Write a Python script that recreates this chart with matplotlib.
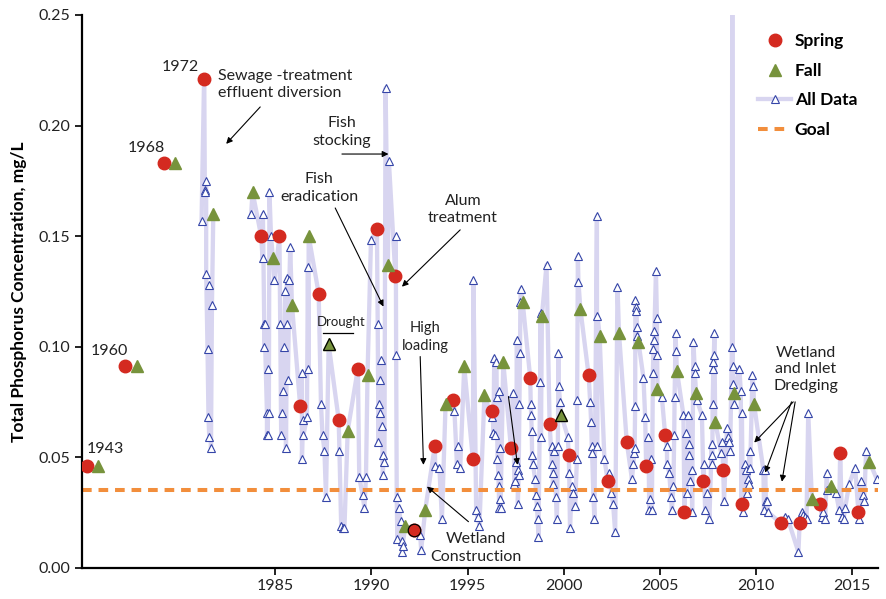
import numpy as np
import matplotlib
matplotlib.use("Agg")
import matplotlib.pyplot as plt
from matplotlib.lines import Line2D

plt.rcParams['font.family'] = ['Lato', 'DejaVu Sans']

# spring / fall samples (x = position on the chart's time axis, early years are squeezed in at the left)
spring_yr = [1975.22, 1977.20, 1979.23, 1981.30, 1984.27, 1985.22, 1986.30, 1987.26, 1988.30, 1989.30,
             1990.29, 1991.25, 1992.20, 1993.30, 1994.26, 1995.28, 1996.30, 1997.26, 1998.26, 1999.27,
             2000.26, 2001.30, 2002.30, 2003.28, 2004.29, 2005.28, 2006.28, 2007.27, 2008.30, 2009.25,
             2011.31, 2012.27, 2013.34, 2014.38, 2015.33]
spring_tp = [0.046, 0.091, 0.183, 0.221, 0.150, 0.150, 0.073, 0.124, 0.067, 0.090,
             0.153, 0.132, 0.017, 0.055, 0.076, 0.049, 0.071, 0.054, 0.086, 0.065,
             0.051, 0.087, 0.039, 0.057, 0.046, 0.060, 0.025, 0.039, 0.044, 0.029,
             0.020, 0.020, 0.029, 0.052, 0.025]

fall_yr = [1975.80, 1977.82, 1979.80, 1981.78, 1983.82, 1984.88, 1985.87, 1986.74, 1987.78, 1988.77,
           1989.80, 1990.86, 1991.77, 1992.80, 1993.86, 1994.83, 1995.88, 1996.86, 1997.87, 1998.87,
           1999.88, 2000.87, 2001.87, 2002.88, 2003.89, 2004.88, 2005.89, 2006.89, 2007.88, 2008.87,
           2009.90, 2012.91, 2013.92, 2015.90]
fall_tp = [0.046, 0.091, 0.183, 0.160, 0.170, 0.140, 0.119, 0.150, 0.101, 0.062,
           0.087, 0.137, 0.019, 0.026, 0.074, 0.091, 0.078, 0.093, 0.120, 0.114,
           0.069, 0.117, 0.105, 0.106, 0.102, 0.081, 0.089, 0.079, 0.066, 0.079,
           0.074, 0.031, 0.037, 0.048]

# points drawn with a black outline
outlined_spring = [1992.20]
outlined_fall = [1987.78, 1999.88]

# every sample (open triangles)
all_yr = [1981.17, 1981.31, 1981.34, 1981.36, 1981.41, 1981.41, 1981.48, 1981.53, 1981.57, 1981.58, 1981.66, 1981.71,
          1983.75, 1984.36, 1984.34, 1984.43, 1984.43, 1984.45, 1984.57, 1984.57, 1984.61, 1984.65, 1984.67, 1984.70,
          1984.78, 1984.96, 1985.26, 1985.31, 1985.36, 1985.40, 1985.47, 1985.52, 1985.56, 1985.61, 1985.61, 1985.66,
          1985.74, 1985.78, 1986.39, 1986.39, 1986.44, 1986.47, 1986.65, 1986.70, 1986.73,
          1987.38, 1987.46, 1987.56, 1987.64, 1988.34, 1988.43, 1988.52, 1988.60, 1989.37, 1989.54, 1989.64, 1989.72,
          1989.98, 1990.33, 1990.37, 1990.41, 1990.44, 1990.46, 1990.51, 1990.55, 1990.60, 1990.63, 1990.68,
          1990.74, 1990.91, 1991.27, 1991.29, 1991.32, 1991.35, 1991.43, 1991.52, 1991.57, 1991.60, 1991.62,
          1992.54, 1992.59, 1993.32, 1993.54, 1993.67, 1994.32, 1994.45, 1994.50, 1994.62,
          1995.31, 1995.45, 1995.52, 1995.62, 1996.27, 1996.35, 1996.39, 1996.44, 1996.49, 1996.53, 1996.56,
          1996.61, 1996.62, 1996.65, 1996.66, 1996.67, 1996.70, 1996.72, 1997.36, 1997.44, 1997.48, 1997.53,
          1997.57, 1997.61, 1997.62, 1997.66, 1997.70, 1997.73, 1997.75, 1997.77, 1998.29, 1998.31, 1998.34,
          1998.36, 1998.40, 1998.52, 1998.57, 1998.61, 1998.65, 1998.69, 1998.78, 1998.80, 1998.82, 1999.11,
          1999.39, 1999.42, 1999.44, 1999.47, 1999.51, 1999.60, 1999.65, 1999.70, 1999.73, 1999.74, 1999.82,
          2000.22, 2000.29, 2000.33, 2000.43, 2000.51, 2000.60, 2000.69, 2000.70, 2000.74, 2000.77,
          2001.38, 2001.43, 2001.46, 2001.48, 2001.55, 2001.60, 2001.73, 2001.74, 2001.76,
          2002.12, 2002.37, 2002.47, 2002.57, 2002.68, 2002.80, 2003.55, 2003.63, 2003.67, 2003.69, 2003.72,
          2003.73, 2003.77, 2003.78, 2003.81, 2003.84, 2004.15, 2004.24, 2004.41, 2004.45,
          2004.50, 2004.55, 2004.59, 2004.64, 2004.67, 2004.71, 2004.72, 2004.80, 2004.85, 2004.86,
          2005.11, 2005.37, 2005.38, 2005.49, 2005.58, 2005.63, 2005.71, 2005.75, 2005.77, 2005.82, 2005.85,
          2006.23, 2006.37, 2006.41, 2006.49, 2006.50, 2006.54, 2006.58, 2006.67, 2006.68, 2006.75, 2006.81,
          2006.82, 2006.92, 2007.19, 2007.28, 2007.36, 2007.47, 2007.58, 2007.70, 2007.71, 2007.73, 2007.75,
          2007.78, 2007.79, 2007.81, 2007.84, 2008.19, 2008.24, 2008.34, 2008.49, 2008.55, 2008.61, 2008.66,
          2008.75, 2008.77, 2008.80, 2008.83, 2008.86, 2009.14, 2009.21, 2009.27, 2009.32, 2009.44, 2009.49,
          2009.54, 2009.58, 2009.62, 2009.67, 2009.70, 2009.82, 2009.87, 2010.39, 2010.42,
          2010.48, 2010.52, 2010.57, 2010.65, 2011.52, 2011.66, 2012.21, 2012.39, 2012.46, 2012.55, 2012.63,
          2012.72, 2013.43, 2013.50, 2013.60, 2013.69, 2013.70, 2014.16, 2014.33, 2014.47, 2014.56, 2014.64,
          2014.85, 2015.16, 2015.38, 2015.47, 2015.56, 2015.63, 2015.73, 2016.29]
all_tp = [0.157, 0.221, 0.171, 0.170, 0.175, 0.133, 0.099, 0.068, 0.059, 0.128, 0.054, 0.119,
          0.160, 0.160, 0.140, 0.110, 0.100, 0.110, 0.070, 0.060, 0.060, 0.090, 0.070, 0.170,
          0.150, 0.130, 0.110, 0.060, 0.070, 0.080, 0.100, 0.125, 0.054, 0.110, 0.131, 0.085,
          0.130, 0.145, 0.088, 0.049, 0.067, 0.060, 0.068, 0.136, 0.090,
          0.074, 0.060, 0.053, 0.032, 0.053, 0.019, 0.018, 0.018, 0.041, 0.033, 0.027, 0.041,
          0.148, 0.110, 0.057, 0.074, 0.070, 0.085, 0.094, 0.064, 0.042, 0.051, 0.048,
          0.217, 0.184, 0.150, 0.096, 0.032, 0.013, 0.027, 0.021, 0.012, 0.007, 0.010,
          0.015, 0.008, 0.046, 0.045, 0.022, 0.071, 0.047, 0.055, 0.045,
          0.130, 0.026, 0.023, 0.019, 0.068, 0.061, 0.095, 0.060, 0.093, 0.077, 0.049,
          0.042, 0.037, 0.027, 0.080, 0.031, 0.054, 0.027, 0.079, 0.038, 0.039, 0.048,
          0.103, 0.044, 0.029, 0.042, 0.074, 0.097, 0.120, 0.126, 0.074, 0.069, 0.062,
          0.051, 0.047, 0.040, 0.033, 0.028, 0.022, 0.014, 0.084, 0.115, 0.059, 0.137,
          0.047, 0.055, 0.038, 0.043, 0.053, 0.032, 0.022, 0.055, 0.097, 0.082, 0.075,
          0.059, 0.043, 0.018, 0.037, 0.034, 0.028, 0.049, 0.076, 0.141, 0.129,
          0.075, 0.066, 0.055, 0.052, 0.032, 0.022, 0.159, 0.055, 0.114,
          0.049, 0.043, 0.034, 0.029, 0.016, 0.127, 0.040, 0.047, 0.052, 0.054, 0.073,
          0.121, 0.118, 0.116, 0.109, 0.105, 0.086, 0.068, 0.059, 0.026,
          0.031, 0.049, 0.026, 0.088, 0.099, 0.103, 0.107, 0.134, 0.113, 0.096,
          0.077, 0.055, 0.047, 0.043, 0.032, 0.026, 0.037, 0.060, 0.077, 0.106, 0.098,
          0.069, 0.061, 0.034, 0.069, 0.056, 0.051, 0.039, 0.044, 0.025, 0.102, 0.091,
          0.088, 0.076, 0.069, 0.047, 0.026, 0.034, 0.022, 0.056, 0.051, 0.047, 0.074,
          0.090, 0.093, 0.096, 0.106, 0.052, 0.057, 0.030, 0.063, 0.059, 0.057, 0.053,
          0.100, 0.290, 0.091, 0.083, 0.074, 0.090, 0.080, 0.070, 0.025, 0.047, 0.044,
          0.034, 0.040, 0.038, 0.053, 0.045, 0.087, 0.082, 0.044, 0.026,
          0.044, 0.030, 0.030, 0.025, 0.023, 0.022, 0.007, 0.025, 0.024, 0.023, 0.022,
          0.070, 0.023, 0.025, 0.022, 0.043, 0.035, 0.034, 0.026, 0.023, 0.022, 0.027,
          0.038, 0.045, 0.022, 0.039, 0.033, 0.030, 0.053, 0.040]

goal = 0.035
year_ticks = [1985, 1990, 1995, 2000, 2005, 2010, 2015]

# the all-data line also runs through the spring/fall samples after 1980
line_x = np.array(all_yr + [x for x in spring_yr + fall_yr if x > 1981])
line_y = np.array(all_tp + [y for x, y in zip(spring_yr + fall_yr, spring_tp + fall_tp) if x > 1981])
order = np.argsort(line_x, kind='stable')
line_x, line_y = line_x[order], line_y[order]
gap = np.where(np.diff(line_x) > 1.5)[0] + 1
line_x = np.insert(line_x, gap, np.nan)
line_y = np.insert(line_y, gap, np.nan)

fig = plt.figure(figsize=(8.87, 5.99), dpi=100)
ax = fig.add_axes([0.0924, 0.0523, 0.8975, 0.9227])

lav = '#d8d5f0'
blue = '#3545a8'
red = '#d42a20'
green = '#77933c'
orange = '#f28e3c'

ax.plot(line_x, line_y, color=lav, lw=3.1, zorder=1, solid_capstyle='round')
ax.plot(all_yr, all_tp, ls='none', marker='^', ms=5.2, mfc='white', mec=blue, mew=0.8, zorder=2)
ax.axhline(goal, color=orange, lw=2.9, ls=(0, (2.4, 1.7)), zorder=2.5)
ax.plot(spring_yr, spring_tp, ls='none', marker='o', ms=9, color=red, mec=red, zorder=3)
ax.plot(fall_yr, fall_tp, ls='none', marker='^', ms=9, color=green, mec=green, zorder=3)

o_sp = [spring_tp[spring_yr.index(x)] for x in outlined_spring]
o_fa = [fall_tp[fall_yr.index(x)] for x in outlined_fall]
ax.plot(outlined_spring, o_sp, ls='none', marker='o', ms=9, color=red, mec='black', mew=0.9, zorder=3.5)
ax.plot(outlined_fall, o_fa, ls='none', marker='^', ms=9, color=green, mec='black', mew=0.9, zorder=3.5)

ax.set_xlim(1974.95, 2016.35)
ax.set_ylim(0, 0.25)
ax.set_xticks(year_ticks)
ax.set_yticks([0, 0.05, 0.10, 0.15, 0.20, 0.25])
ax.set_yticklabels(['0.00', '0.05', '0.10', '0.15', '0.20', '0.25'])
ax.tick_params(labelsize=11.5, width=1.4, length=5, colors='#222222')
for s in ['top', 'right']:
    ax.spines[s].set_visible(False)
for s in ['left', 'bottom']:
    ax.spines[s].set_linewidth(1.6)
ax.set_ylabel('Total Phosphorus Concentration, mg/L', fontsize=12.5, fontweight='bold', labelpad=8)

tk = dict(fontsize=11.5, ha='center', va='center', color='#222222')
ax.text(1976.16, 0.0537, '1943', **tk)
ax.text(1976.37, 0.098, '1960', **tk)
ax.text(1978.29, 0.190, '1968', **tk)
ax.text(1980.06, 0.2266, '1972', **tk)
ax.text(1982.04, 0.2184, 'Sewage -treatment\neffluent diversion', fontsize=11.5, ha='left', va='center',
        color='#222222', linespacing=1.3)
ax.text(1988.48, 0.197, 'Fish\nstocking', linespacing=1.3, **tk)
ax.text(1987.29, 0.1717, 'Fish\neradication', linespacing=1.3, **tk)
ax.text(1994.76, 0.1619, 'Alum\ntreatment', linespacing=1.3, **tk)
ax.text(1988.43, 0.1113, 'Drought', fontsize=9.5, ha='center', va='center', color='#222222')
ax.plot([1987.51, 1989.02], [0.1061, 0.1061], color='black', lw=0.9)
ax.text(1992.8, 0.1044, 'High\nloading', fontsize=10.5, ha='center', va='center', color='#222222', linespacing=1.3)
ax.text(1995.45, 0.0089, 'Wetland\nConstruction', linespacing=1.3, **tk)
ax.text(2012.6, 0.0897, 'Wetland\nand Inlet\nDredging', linespacing=1.25, **tk)

arrows = [
    ((1984.22, 0.2084), (1982.45, 0.1917)),
    ((1988.47, 0.1871), (1990.89, 0.1871)),
    ((1988.12, 0.1627), (1990.63, 0.1181)),
    ((1994.62, 0.1528), (1991.59, 0.1271)),
    ((1992.54, 0.0955), (1992.71, 0.0465)),
    ((1995.05, 0.0208), (1992.89, 0.0367)),
    ((1997.13, 0.0774), (1997.60, 0.0465)),
    ((2011.94, 0.0750), (2009.91, 0.0566)),
    ((2011.85, 0.0750), (2010.48, 0.0430)),
    ((2012.04, 0.0750), (2011.35, 0.0389)),
]
for start, end in arrows:
    ax.annotate('', xy=end, xytext=start,
                arrowprops=dict(arrowstyle='-|>', color='black', lw=0.8, mutation_scale=9, shrinkA=0, shrinkB=0),
                zorder=4)

handles = [
    Line2D([], [], ls='none', marker='o', ms=9, color=red),
    Line2D([], [], ls='none', marker='^', ms=9, color=green),
    Line2D([], [], color=lav, lw=3.1, marker='^', ms=5.2, mfc='white', mec=blue, mew=0.8),
    Line2D([], [], color=orange, lw=2.9, ls=(0, (2.4, 1.7))),
]
leg = ax.legend(handles, ['Spring', 'Fall', 'All Data', 'Goal'], loc='upper left',
                bbox_to_anchor=(0.83, 0.995), frameon=False, handlelength=1.9, handletextpad=0.2,
                labelspacing=0.78, prop=dict(size=12.5, weight='bold'))

fig.savefig('out.png', dpi=100)
